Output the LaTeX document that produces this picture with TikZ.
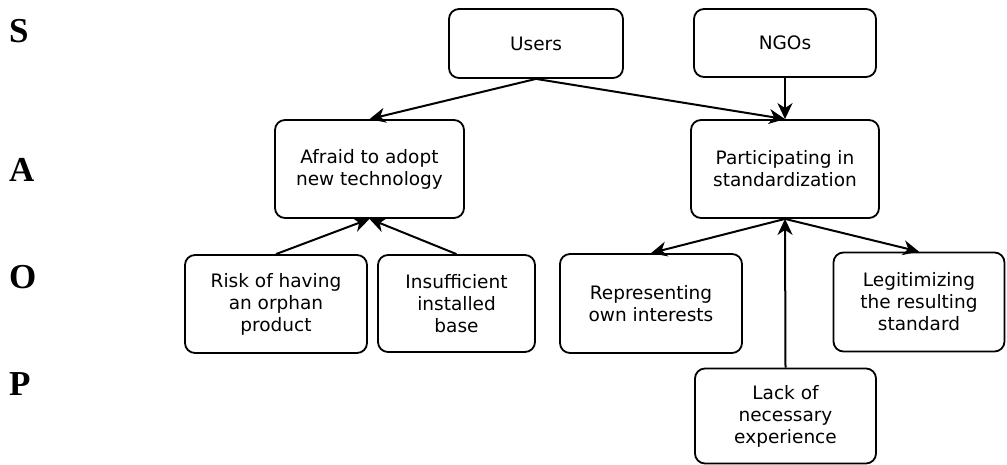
\documentclass[tikz,border=0pt]{standalone}
\usepackage{fontspec}
\setmainfont{DejaVu Sans}
\newfontfamily\levelfont{Liberation Serif}
\usetikzlibrary{arrows.meta}
\begin{document}
\begin{tikzpicture}[x=1pt,y=-1pt,
  box/.style={draw, line width=1.8pt, rounded corners=10pt, align=center,
    inner sep=0pt, font=\fontsize{18.5}{22}\selectfont},
  link/.style={line width=2pt, -{Stealth[length=16pt,width=15pt,inset=5pt]}},
  level/.style={anchor=west, inner sep=0pt, font=\levelfont\bfseries\fontsize{35}{35}\selectfont}]
\useasboundingbox (0,0) rectangle (1007,465);

% level labels
\node[level] (lS) at (9,31) {S};
\node[level] (lA) at (9,170) {A};
\node[level] (lO) at (9,277) {O};
\node[level] (lP) at (9,384) {P};

% actors
\node[box, minimum width=174pt, minimum height=69pt] (users) at (536,43.5) {Users};
\node[box, minimum width=182pt, minimum height=68pt] (ngos) at (785,43) {NGOs};

% actions
\node[box, minimum width=189pt, minimum height=98pt] (afraid) at (369.5,169) {Afraid to adopt\\new technology};
\node[box, minimum width=188pt, minimum height=98pt] (part) at (785,169) {Participating in\\standardization};

% objectives
\node[box, minimum width=182pt, minimum height=98pt] (risk) at (276,304) {Risk of having\\an orphan\\product};
\node[box, minimum width=157pt, minimum height=97pt] (insuf) at (456.5,303.5) {Insufficient\\installed\\base};
\node[box, minimum width=182pt, minimum height=99pt] (repr) at (651,303.5) {Representing\\own interests};
\node[box, minimum width=171pt, minimum height=99pt] (legit) at (919,302) {Legitimizing\\the resulting\\standard};

% problems
\node[box, minimum width=181pt, minimum height=95pt] (lack) at (785.5,416) {Lack of\\necessary\\experience};

% connectors
\draw[link] (users.south) -- (afraid.north);
\draw[link] (users.south) -- (part.north);
\draw[link] (ngos.south) -- (part.north);
\draw[link] (risk.north) -- (afraid.south);
\draw[link] (insuf.north) -- (afraid.south);
\draw[link] (part.south) -- (repr.north);
\draw[link] (part.south) -- (legit.north);
\draw[link] (lack.north) -- (part.south);
\end{tikzpicture}
\end{document}
